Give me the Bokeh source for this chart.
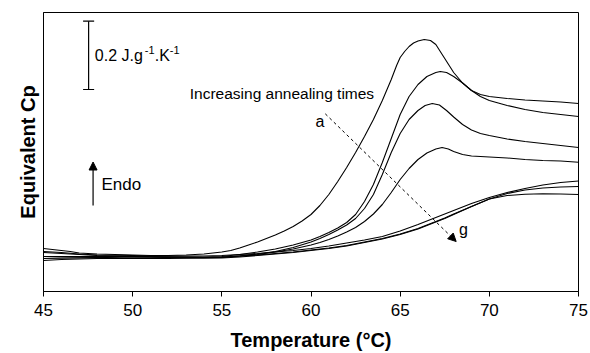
from bokeh.plotting import figure
from bokeh.models import Range1d, FixedTicker, Arrow, NormalHead, Label
from bokeh.embed import file_html
from bokeh.resources import INLINE

# Temperature (°C) and equivalent Cp (arbitrary units, 68.3 units = 0.2 J.g-1.K-1)
t_a = [45, 45.5, 46, 46.5, 47, 48, 49, 50, 51, 52, 53, 54, 55, 55.5, 56, 56.5, 57, 57.5, 58, 58.5,
       59, 59.5, 60, 60.5, 61, 61.5, 62, 62.5, 63, 63.5, 64, 64.5, 64.8, 65, 65.25, 65.5, 65.75, 66,
       66.35, 66.7, 67, 67.5, 68, 68.5, 69, 69.5, 70, 71, 72, 73, 74, 75]
cp_a = [43, 42, 41, 40, 38.5, 37.5, 37, 36.5, 36, 36, 36.5, 37.5, 39.5, 41, 43.5, 46.5, 49.5, 53, 56.5, 60.5,
        65, 70.5, 77, 86, 97, 110, 124, 139, 155, 172, 191, 212, 226, 234, 240, 245, 248.5, 250.5,
        252, 251, 247, 233, 219, 208.5, 201, 197, 195, 193, 191.5, 190.5, 189.5, 188]

t_b = [45, 46, 47, 48, 50, 52, 54, 55, 56, 57, 58, 59, 60, 60.5, 61, 61.5, 62, 62.5, 63, 63.5, 64,
       64.5, 65, 65.5, 66, 66.5, 67, 67.25, 67.6, 68, 68.5, 69, 69.5, 70, 70.5, 71, 72, 73, 74, 75]
cp_b = [39, 38, 37, 36, 35, 34.5, 34.5, 35, 37, 39.5, 42.5, 46.5, 51.5, 55, 59, 63.5, 69, 77, 90, 107, 129,
        153, 177, 195, 207, 215, 219, 220, 219, 215, 208.5, 201, 195, 191, 188.5, 186, 182, 179, 177, 175]

t_c = [45, 46, 48, 50, 52, 54, 55, 56, 57, 58, 59, 60, 60.5, 61, 61.5, 62, 62.5, 63, 63.5, 64, 64.5,
       65, 65.5, 66, 66.4, 66.8, 67.2, 67.6, 68, 68.5, 69, 69.5, 70, 71, 72, 73, 74, 75]
cp_c = [35, 34.5, 34, 35, 34.5, 34, 34, 35.5, 37.5, 40, 44, 49.5, 53, 57, 61.5, 66.5, 73, 83, 97, 117, 139,
        158, 172, 181, 186, 188, 186.5, 181, 174.5, 167, 161.5, 158, 156, 152.5, 150, 148, 146, 144]

t_d = [45, 46, 48, 50, 52, 54, 55, 56, 57, 58, 59, 60, 60.5, 61, 61.5, 62, 62.5, 63, 63.5, 64, 64.5,
       65, 65.5, 66, 66.5, 67, 67.35, 67.7, 68, 68.5, 69, 70, 71, 72, 73, 74, 75]
cp_d = [31, 32, 33, 33, 33, 33.5, 34, 35.5, 37, 39.5, 42.5, 46.5, 49, 52, 55.5, 59.5, 64, 70, 77.5, 87, 99,
        112, 123, 132, 138.5, 142.5, 144, 142.5, 140, 137, 135.5, 134.5, 133.5, 132, 131, 130.5, 129.3]

t_e = [45, 46, 47, 48, 50, 52, 54, 55, 56, 57, 58, 59, 60, 61, 62, 63, 64, 65, 66, 67, 68, 69, 70,
       71, 72, 73, 74, 75]
cp_e = [40, 39, 37.5, 36.5, 36, 35.5, 35.5, 36, 37, 38, 39.5, 41, 43, 45.5, 48.5, 51.5, 55, 60.5, 67, 74,
        81, 88, 94, 99, 103, 106.5, 109, 110.5]

t_f = [45, 47, 50, 52, 54, 55, 56, 57, 58, 59, 60, 61, 62, 63, 64, 65, 66, 67, 67.5, 68, 69, 70, 71,
       72, 73, 74, 75]
cp_f = [35, 35, 35, 34.5, 34, 34.5, 35.5, 36.5, 38, 39.5, 41.5, 43.5, 46, 49.5, 53, 57.5, 63, 70, 73.5,
        77.5, 85, 92.5, 98, 101.5, 103.5, 104.5, 105]

t_g = [45, 47, 50, 52, 54, 55, 56, 57, 58, 59, 60, 61, 62, 63, 64, 65, 66, 67, 67.5, 68, 69, 70, 71,
       72, 73, 74, 75]
cp_g = [33, 33.5, 34.5, 34, 33.5, 33.5, 34.5, 36, 37.5, 39, 41, 43, 45.5, 49, 52.5, 57, 62.5, 69.5, 73,
        77, 85, 92.5, 96, 97.3, 97.8, 97.5, 97]

curves = [(t_a, cp_a), (t_b, cp_b), (t_c, cp_c), (t_d, cp_d), (t_e, cp_e), (t_f, cp_f), (t_g, cp_g)]

x_ticks = [45, 50, 55, 60, 65, 70, 75]

FONT = "Liberation Sans"

p = figure(width=590, height=353, output_backend="svg", toolbar_location=None,
           x_range=Range1d(45, 75), y_range=Range1d(0, 279),
           min_border_left=43, min_border_right=12, min_border_top=12, min_border_bottom=62)
p.background_fill_color = "white"
p.border_fill_color = "white"
p.outline_line_color = "black"
p.outline_line_width = 1
p.xgrid.visible = False
p.ygrid.visible = False

p.xaxis.ticker = FixedTicker(ticks=x_ticks)
p.xaxis.minor_tick_line_color = None
p.xaxis.major_tick_out = 5
p.xaxis.major_tick_in = 0
p.xaxis.major_label_text_font = FONT
p.xaxis.major_label_text_font_size = "17px"
p.xaxis.major_label_text_color = "black"
p.xaxis.major_label_standoff = 7
p.xaxis.axis_label = "Temperature (°C)"
p.xaxis.axis_label_text_font = FONT
p.xaxis.axis_label_text_font_style = "bold"
p.xaxis.axis_label_text_font_size = "20px"
p.xaxis.axis_label_text_color = "black"
p.xaxis.axis_label_standoff = 10
p.xaxis.axis_line_color = "black"
p.xaxis.major_tick_line_color = "black"

p.yaxis.ticker = FixedTicker(ticks=[])
p.yaxis.minor_tick_line_color = None
p.yaxis.major_tick_line_color = None
p.yaxis.axis_label = "Equivalent Cp"
p.yaxis.axis_label_text_font = FONT
p.yaxis.axis_label_text_font_style = "bold"
p.yaxis.axis_label_text_font_size = "20px"
p.yaxis.axis_label_text_color = "black"
p.yaxis.axis_label_standoff = 5
p.yaxis.axis_line_color = "black"

for t, cp in curves:
    p.line(t, cp, line_color="black", line_width=1.1, line_join="round")

# scale bar: 0.2 J.g-1.K-1 (68.3 units)
bar_x = 47.53
bar_lo, bar_hi = 202, 270.3
p.segment(x0=[bar_x], y0=[bar_lo], x1=[bar_x], y1=[bar_hi], line_color="black", line_width=1.2)
p.segment(x0=[47.22, 47.22], y0=[bar_lo, bar_hi], x1=[47.84, 47.84], y1=[bar_lo, bar_hi],
          line_color="black", line_width=1.2)
sx, sy = 47.88, 236
for txt, dx, dy, fs in [("0.2 J.g", 0, 0, "16px"), ("-1", 50, 6, "11px"),
                        (".K", 60, 0, "16px"), ("-1", 75, 6, "11px")]:
    p.add_layout(Label(x=sx, y=sy, x_offset=dx, y_offset=dy, text=txt, text_font=FONT,
                       text_font_size=fs, text_baseline="middle", text_color="black"))

# Endo arrow
p.add_layout(Arrow(end=NormalHead(size=8, fill_color="black", line_color="black"),
                   x_start=47.78, y_start=86, x_end=47.78, y_end=129.5,
                   line_color="black", line_width=1.2))
p.add_layout(Label(x=48.25, y=107.5, text="Endo", text_font=FONT, text_font_size="17px",
                   text_baseline="middle", text_color="black"))

# annealing arrow
p.add_layout(Label(x=53.2, y=198, text="Increasing annealing times", text_font=FONT,
                   text_font_size="15.5px", text_baseline="middle", text_color="black"))
p.add_layout(Arrow(end=NormalHead(size=8, fill_color="black", line_color="black"),
                   x_start=60.8, y_start=177.7, x_end=68.14, y_end=50,
                   line_color="black", line_width=1, line_dash="3 3"))
p.add_layout(Label(x=60.5, y=170, text="a", text_font=FONT, text_font_size="16px",
                   text_align="center", text_baseline="middle", text_color="black"))
p.add_layout(Label(x=68.55, y=62, text="g", text_font=FONT, text_font_size="16px",
                   text_align="center", text_baseline="middle", text_color="black"))

open("out.html", "w").write(file_html(p, INLINE))
